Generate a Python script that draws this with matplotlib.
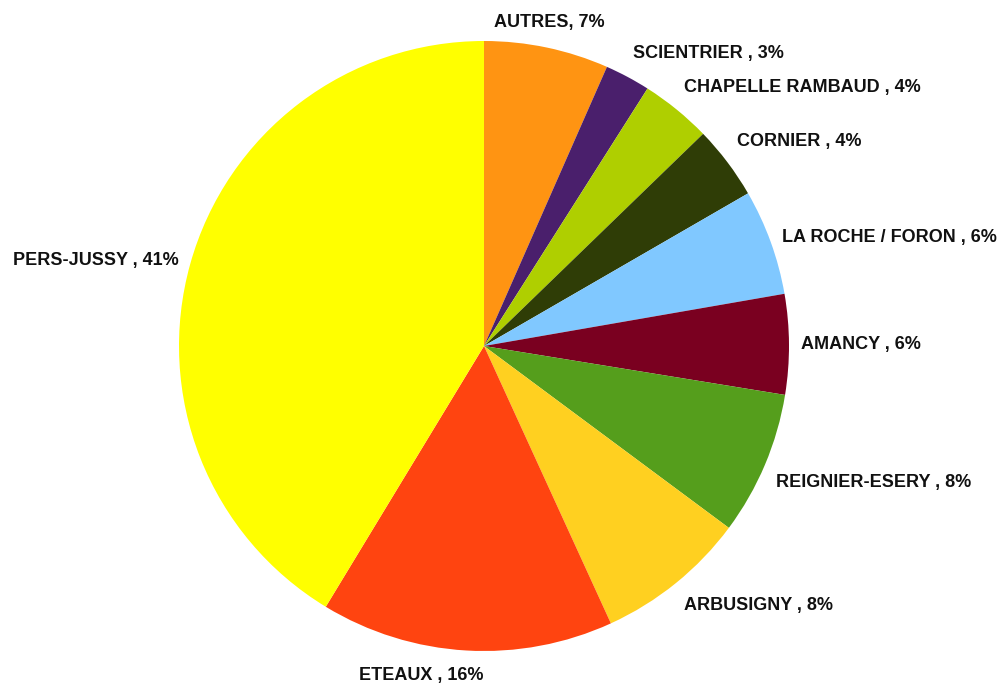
import matplotlib.pyplot as plt

names = ["AUTRES", "SCIENTRIER", "CHAPELLE RAMBAUD", "CORNIER", "LA ROCHE / FORON",
         "AMANCY", "REIGNIER-ESERY", "ARBUSIGNY", "ETEAUX", "PERS-JUSSY"]
shares = [6.6, 2.4, 3.75, 3.9, 5.6, 5.3, 7.6, 8.0, 15.5, 41.3]
pct_labels = [7, 3, 4, 4, 6, 6, 8, 8, 16, 41]
colors = ["#FF9412", "#4A1F6C", "#AFCF00", "#2F3D06", "#80C8FF",
          "#7A0020", "#559E1C", "#FFD020", "#FF4410", "#FFFF00"]

labels = []
for n, p in zip(names, pct_labels):
    if n == "AUTRES":
        labels.append(f"{n}, {p}%")
    else:
        labels.append(f"{n} , {p}%")

fig = plt.figure(figsize=(10.06, 6.85), dpi=100)
ax = fig.add_axes([179 / 1006, (685 - 346 - 305) / 685, 610 / 1006, 610 / 685])

wedges, texts = ax.pie(shares, labels=labels, colors=colors, startangle=90,
                       counterclock=False, labeldistance=1.04,
                       textprops=dict(family=["Liberation Sans", "DejaVu Sans"],
                                      fontsize=13, fontweight="bold", color="#111111"))

# labels far from the horizontal sit above / below their anchor point
for t in texts:
    x, y = t.get_position()
    if y > 0.38:
        t.set_va("bottom")
        t.set_position((x, y + 0.015))
    elif y < -0.38:
        t.set_va("top")
        t.set_position((x, y - 0.015))
texts[0].set_ha("center")
x, y = texts[8].get_position()
texts[8].set_position((x + 0.06, y))

ax.set_xlim(-1, 1)
ax.set_ylim(-1, 1)

fig.savefig("out.png", dpi=100)
